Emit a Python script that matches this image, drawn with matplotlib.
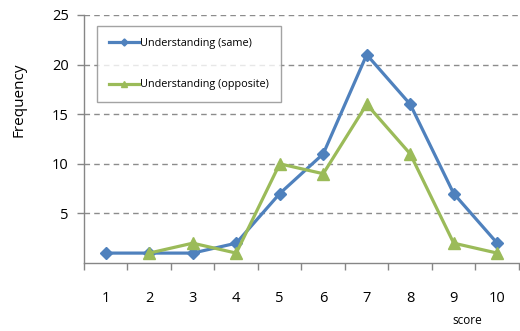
import matplotlib.pyplot as plt

plt.rcParams['font.family'] = ['Open Sans', 'DejaVu Sans']

scores = [1, 2, 3, 4, 5, 6, 7, 8, 9, 10]
same = [1, 1, 1, 2, 7, 11, 21, 16, 7, 2]
opposite_scores = [2, 3, 4, 5, 6, 7, 8, 9, 10]
opposite = [1, 2, 1, 10, 9, 16, 11, 2, 1]

blue = '#4F81BD'
green = '#9BBB59'
grey = '#868686'

fig = plt.figure(figsize=(5.2, 3.31), dpi=100)
ax = fig.add_axes([0.1615, 0.2054, 0.8365, 0.7493])

ax.plot(scores, same, color=blue, lw=2.3, marker='D', ms=6,
        label='Understanding (same)', zorder=3)
ax.plot(opposite_scores, opposite, color=green, lw=2.3, marker='^', ms=8,
        label='Understanding (opposite)', zorder=3)

ax.set_xlim(0.5, 10.5)
ax.set_ylim(0, 25)
ax.set_yticks([5, 10, 15, 20, 25])
ax.set_xticks(scores)
ax.set_xticks([i + 0.5 for i in range(0, 11)], minor=True)
ax.tick_params(axis='x', which='major', length=0, pad=20, labelsize=10.5)
ax.tick_params(axis='x', which='minor', length=5, color=grey, width=1)
ax.tick_params(axis='y', length=5, color=grey, width=1, labelsize=10.5, pad=6)

for y in [5, 10, 15, 20, 25]:
    ax.axhline(y, color='#8C8C8C', lw=1, ls=(0, (4, 3)), zorder=1)

for side in ['top', 'right']:
    ax.spines[side].set_visible(False)
for side in ['left', 'bottom']:
    ax.spines[side].set_color(grey)
    ax.spines[side].set_linewidth(1)

ax.set_ylabel('Frequency', fontsize=11)
ax.yaxis.set_label_coords(-0.133, 0.657)
fig.text(0.898, 0.02, 'score', fontsize=8.5, ha='center')

leg = ax.legend(loc='upper left', bbox_to_anchor=(0.03, 0.955), fontsize=7.8,
                frameon=True, fancybox=False, edgecolor='#8C8C8C',
                labelspacing=2.8, handlelength=2.8, handletextpad=0.1,
                borderpad=1.1, borderaxespad=0, markerscale=0.6)
leg.get_frame().set_linewidth(1)

fig.savefig('out.png', dpi=100)
